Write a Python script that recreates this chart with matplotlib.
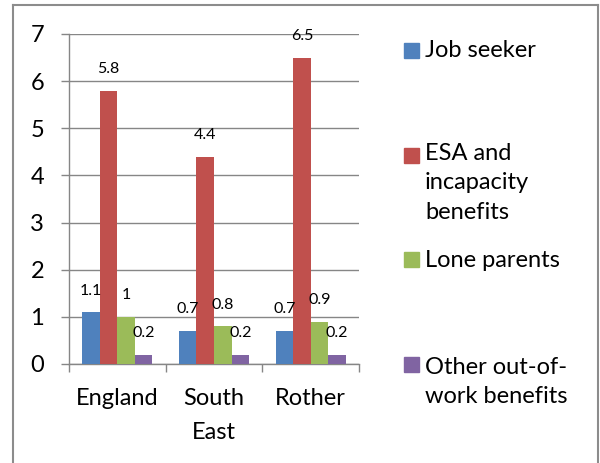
import numpy as np
import matplotlib.pyplot as plt
from matplotlib.patches import Rectangle

plt.rcParams['font.family'] = ['Lato', 'DejaVu Sans']

# Out-of-work benefit claimants (%) by area
areas = ['England', 'South\nEast', 'Rother']
series_names = ['Job seeker', 'ESA and\nincapacity\nbenefits', 'Lone parents',
                'Other out-of-\nwork benefits']
job_seeker = [1.1, 0.7, 0.7]
esa_incapacity = [5.8, 4.4, 6.5]
lone_parents = [1.0, 0.8, 0.9]
other_benefits = [0.2, 0.2, 0.2]
value_labels = [['1.1', '0.7', '0.7'], ['5.8', '4.4', '6.5'],
                ['1', '0.8', '0.9'], ['0.2', '0.2', '0.2']]

colors = ['#4F81BD', '#C0504D', '#9BBB59', '#8064A2']
grey = '#868686'

W, H = 600, 463
fig = plt.figure(figsize=(W / 100, H / 100), dpi=100)

# chart border (open at the bottom)
fig.add_artist(plt.Line2D([12.5 / W, 12.5 / W], [0, 1 - 4.5 / H], color='#8c8c8c', lw=1.5))
fig.add_artist(plt.Line2D([12.5 / W, 597.5 / W], [1 - 4.5 / H, 1 - 4.5 / H], color='#8c8c8c', lw=1.5))
fig.add_artist(plt.Line2D([597.5 / W, 597.5 / W], [0, 1 - 4.5 / H], color='#8c8c8c', lw=1.5))

ax = fig.add_axes([69 / W, 99 / H, 290 / W, 330 / H])

x = np.arange(len(areas))
w = 1 / 5.5
values = [job_seeker, esa_incapacity, lone_parents, other_benefits]
for i, (vals, col) in enumerate(zip(values, colors)):
    pos = x + (i - 1.5) * w
    ax.bar(pos, vals, width=w, color=col, zorder=3)
    for px, v, lab in zip(pos, vals, value_labels[i]):
        ax.annotate(lab, (px, v), xytext=(0, 15.5), textcoords='offset points',
                    ha='center', va='center', fontsize=11.5, color='#000000', zorder=4)

ax.set_xlim(-0.5, 2.5)
ax.set_ylim(0, 7)
ax.set_yticks(range(8))
ax.yaxis.grid(True, color=grey, lw=1, zorder=0)
ax.tick_params(axis='y', length=6, width=1, color=grey, pad=12, labelsize=17)

ax.set_xticks(x)
ax.set_xticklabels(areas, fontsize=17, linespacing=1.8)
ax.set_xticks([-0.5, 0.5, 1.5, 2.5], minor=True)
ax.tick_params(axis='x', which='major', length=0, pad=17)
ax.tick_params(axis='x', which='minor', length=6, width=1, color=grey)

for s in ['top', 'right']:
    ax.spines[s].set_visible(False)
for s in ['left', 'bottom']:
    ax.spines[s].set_color(grey)
    ax.spines[s].set_linewidth(1)

# legend drawn by hand to keep Excel's spacing
legend_rows = [50, 155, 259, 364.5]
text_shift = [10, 12, 9, 8]
for name, col, yc, dy in zip(series_names, colors, legend_rows, text_shift):
    fig.add_artist(Rectangle((404 / W, 1 - (yc + 7.5) / H), 15 / W, 15 / H,
                             color=col, transform=fig.transFigure))
    fig.text(425 / W, 1 - (yc - dy) / H, name, ha='left', va='top',
             fontsize=17, linespacing=1.5)

fig.savefig('out.png', dpi=100)
